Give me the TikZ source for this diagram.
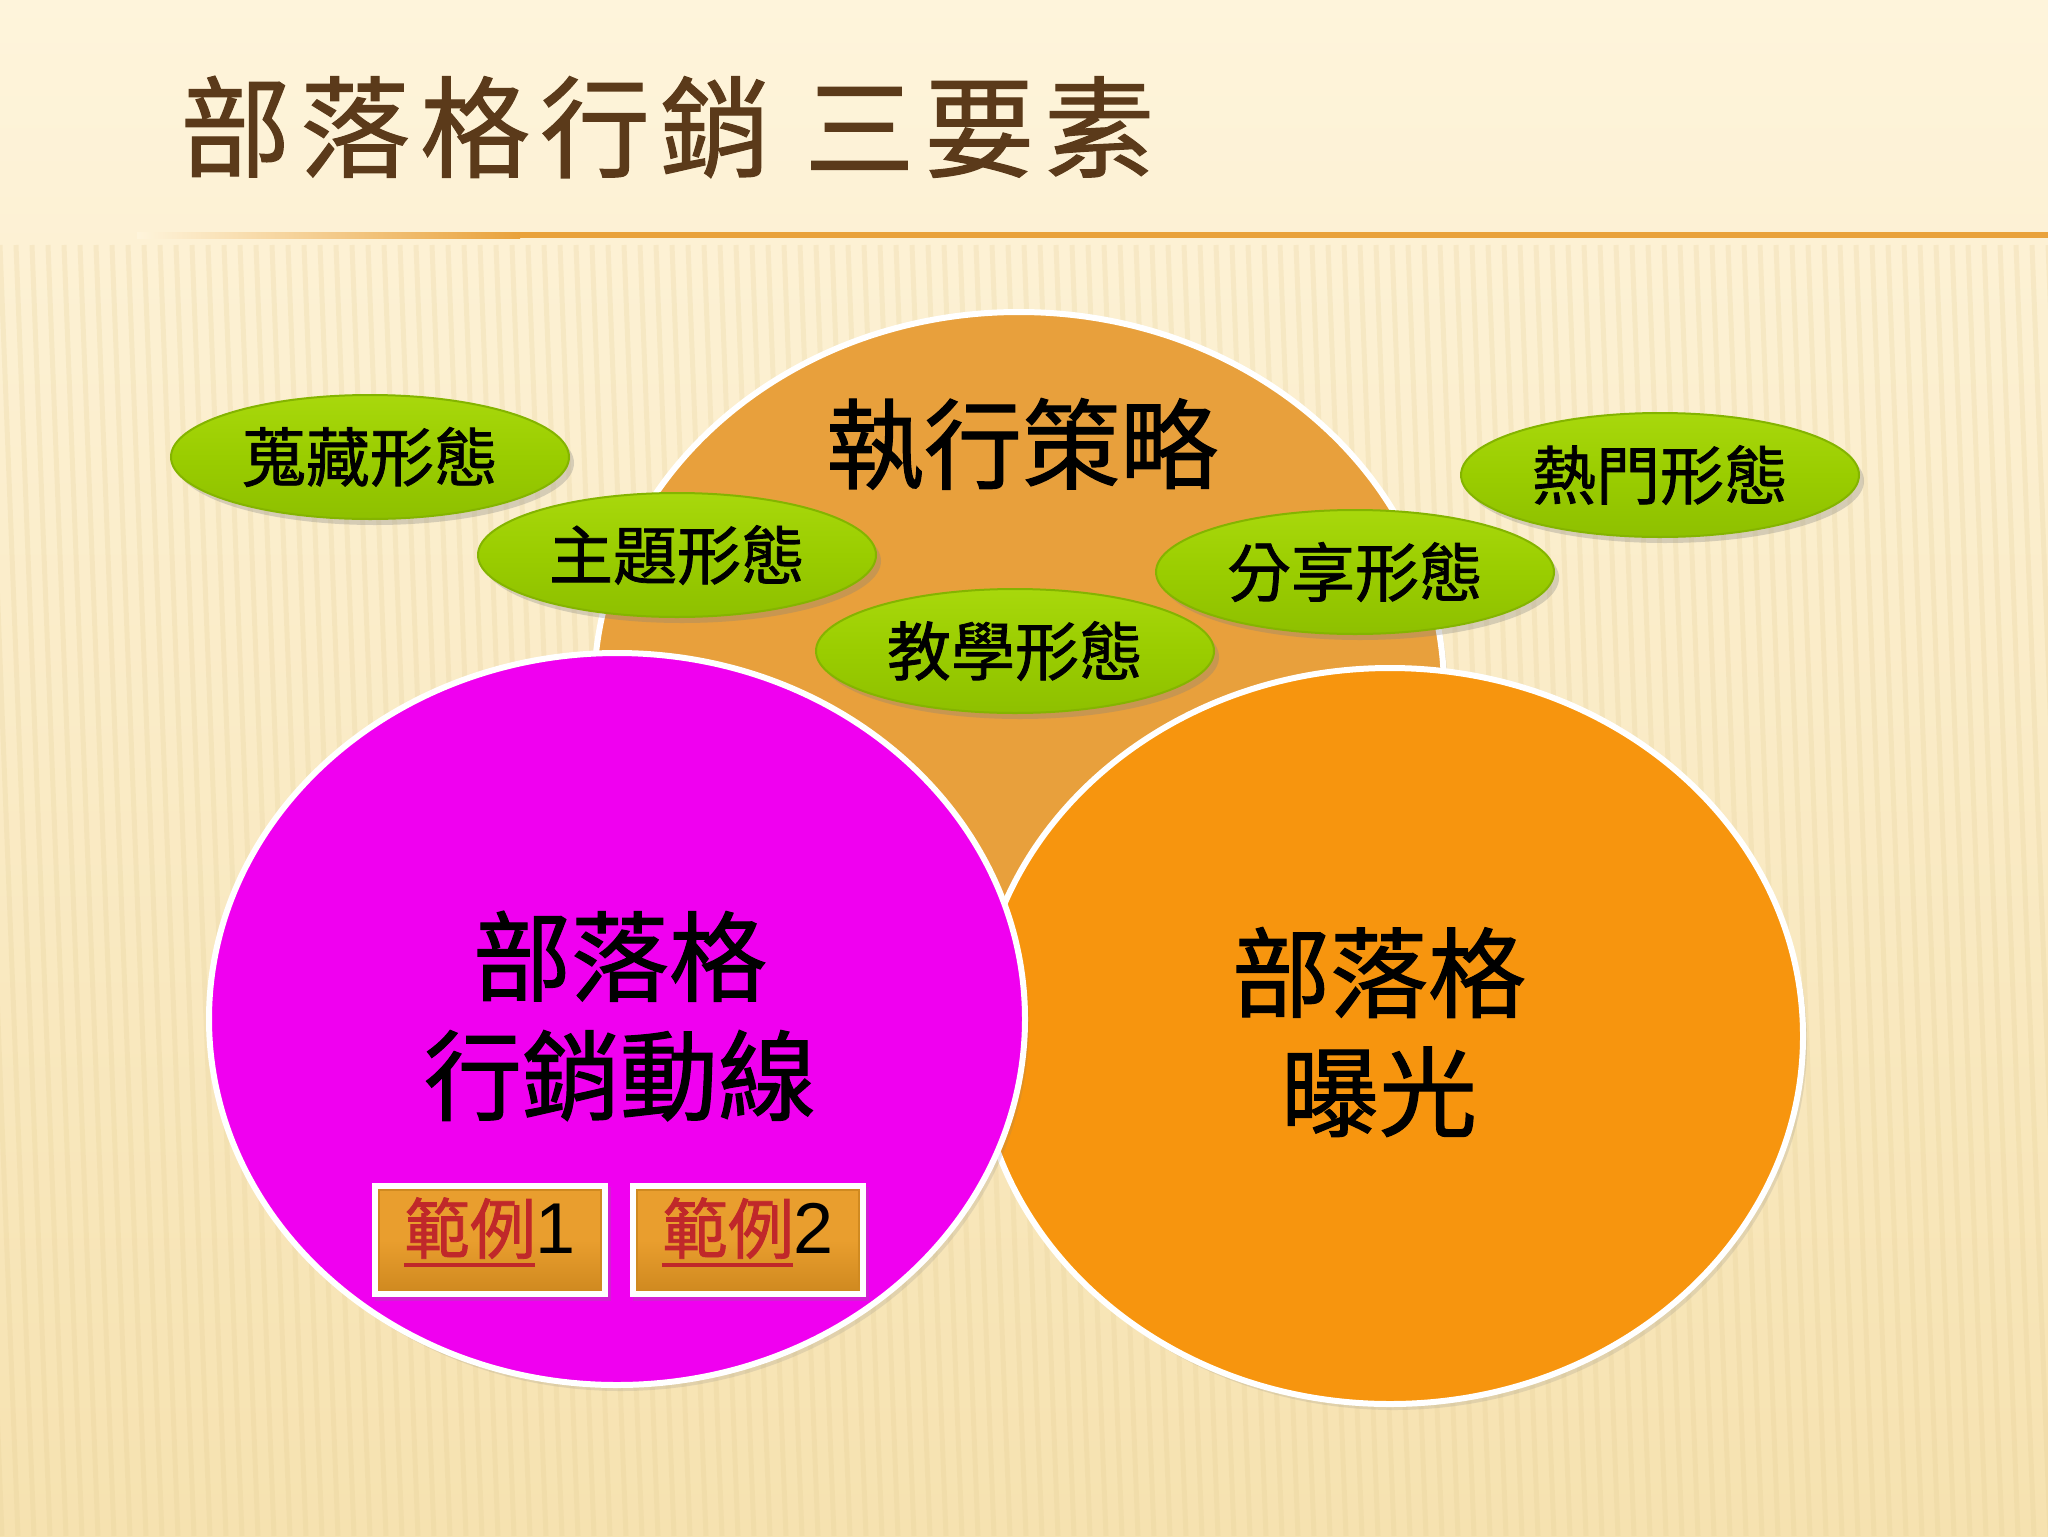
\documentclass[tikz,border=0pt]{standalone}
\usepackage{fontspec}
\newfontfamily\cjk[FakeBold=1.2]{Noto Sans CJK TC}
\newfontfamily\cjktitle[LetterSpace=9,FakeBold=1]{Noto Sans CJK TC}
\newfontfamily\arial{Liberation Sans}
\usetikzlibrary{shadows,shapes.geometric}
\definecolor{bgtop}{HTML}{FEF4DB}
\definecolor{bgbot}{HTML}{F6E2B0}
\definecolor{stripec}{HTML}{E2CC92}
\definecolor{titlebrown}{HTML}{5B3A1A}
\definecolor{lineor}{HTML}{E9A23B}
\definecolor{topor}{HTML}{E8A03C}
\definecolor{rightor}{HTML}{F7950E}
\definecolor{magc}{HTML}{F000F0}
\definecolor{gtop}{HTML}{A8D80C}
\definecolor{gmid}{HTML}{9ACD00}
\definecolor{gbot}{HTML}{8EC000}
\definecolor{gedge}{HTML}{84B400}
\definecolor{btnor}{HTML}{E99E2E}
\definecolor{btndark}{HTML}{D08A20}
\definecolor{linkred}{HTML}{C0282A}
\newcommand{\linkword}[1]{{\color{linkred}\rlap{\rule[-0.2em]{1.98em}{0.06em}}#1}}
\tikzset{
  bigcirc/.style={ellipse, draw=white, line width=3pt, inner sep=0pt,
    drop shadow={opacity=0.18, shadow xshift=2pt, shadow yshift=-3pt}},
  pill/.style={ellipse, minimum width=199pt, minimum height=62pt, inner sep=0pt,
    top color=gtop, bottom color=gbot, middle color=gmid, draw=gedge, line width=1pt,
    drop shadow={opacity=0.3, shadow xshift=2.5pt, shadow yshift=-3pt},
    font=\cjk\fontsize{32}{36}\selectfont, text=black},
  bigtext/.style={font=\cjk\fontsize{49}{59.5}\selectfont, text=black, align=center, inner sep=0pt},
  btnouter/.style={rectangle, fill=white, minimum width=118pt, minimum height=57pt, inner sep=0pt,
    drop shadow={opacity=0.25, shadow xshift=1.5pt, shadow yshift=-2pt}},
  btninner/.style={rectangle, top color=btnor, bottom color=btndark, middle color=btnor,
    minimum width=111pt, minimum height=50pt, inner sep=0pt, draw=btndark, line width=0.8pt},
  btntext/.style={font=\cjk\fontsize{33}{36}\selectfont, text=black, inner sep=0pt},
  stripe/.style={draw=stripec, line width=2.5pt, opacity=0.22}
}
\begin{document}
\begin{tikzpicture}[x=0.5pt,y=-0.5pt]
\useasboundingbox (0,0) rectangle (2048,1536);
% background
\fill[top color=bgtop, bottom color=bgbot] (0,0) rectangle (2048,1536);
\foreach \i in {-5,...,130} {
  \draw[stripe] (\i*16,245) -- (\i*16+50,1536);
}
% title
\node[anchor=west, font=\cjktitle\fontsize{55}{60}\selectfont, text=titlebrown, inner sep=0pt]
  (title) at (180,127) {部落格行銷 三要素};
\fill[left color=bgtop, right color=lineor] (137,232) rectangle (520,238);
\fill[lineor] (520,232) rectangle (2048,238);
% big circles
\node[bigcirc, fill=topor, minimum width=425pt, minimum height=378pt] (strat) at (1019,690) {};
\node[bigcirc, fill=rightor, minimum width=413pt, minimum height=368pt] (expo) at (1390,1036) {};
\node[bigcirc, fill=magc, minimum width=408pt, minimum height=366pt] (flow) at (617,1019) {};
% big labels
\node[bigtext] (stratlbl) at (1022,444) {執行策略};
\node[bigtext] (flowlbl) at (620,1016) {部落格\\行銷動線};
\node[bigtext] (expolbl) at (1379,1032) {部落格\\曝光};
% green pills
\node[pill] (g1) at (370,457) {蒐藏形態};
\node[pill] (g2) at (677,555) {主題形態};
\node[pill] (g3) at (1015,651) {教學形態};
\node[pill] (g4) at (1355,572) {分享形態};
\node[pill] (g5) at (1660,475) {熱門形態};
% buttons
\node[btnouter] (b1o) at (490,1240) {};
\node[btninner] (b1) at (490,1240) {};
\node[btntext] (b1t) at (490,1232) {\linkword{範例}{\arial\fontsize{36}{36}\selectfont 1}};
\node[btnouter] (b2o) at (748,1240) {};
\node[btninner] (b2) at (748,1240) {};
\node[btntext] (b2t) at (748,1232) {\linkword{範例}{\arial\fontsize{36}{36}\selectfont 2}};
\end{tikzpicture}
\end{document}
